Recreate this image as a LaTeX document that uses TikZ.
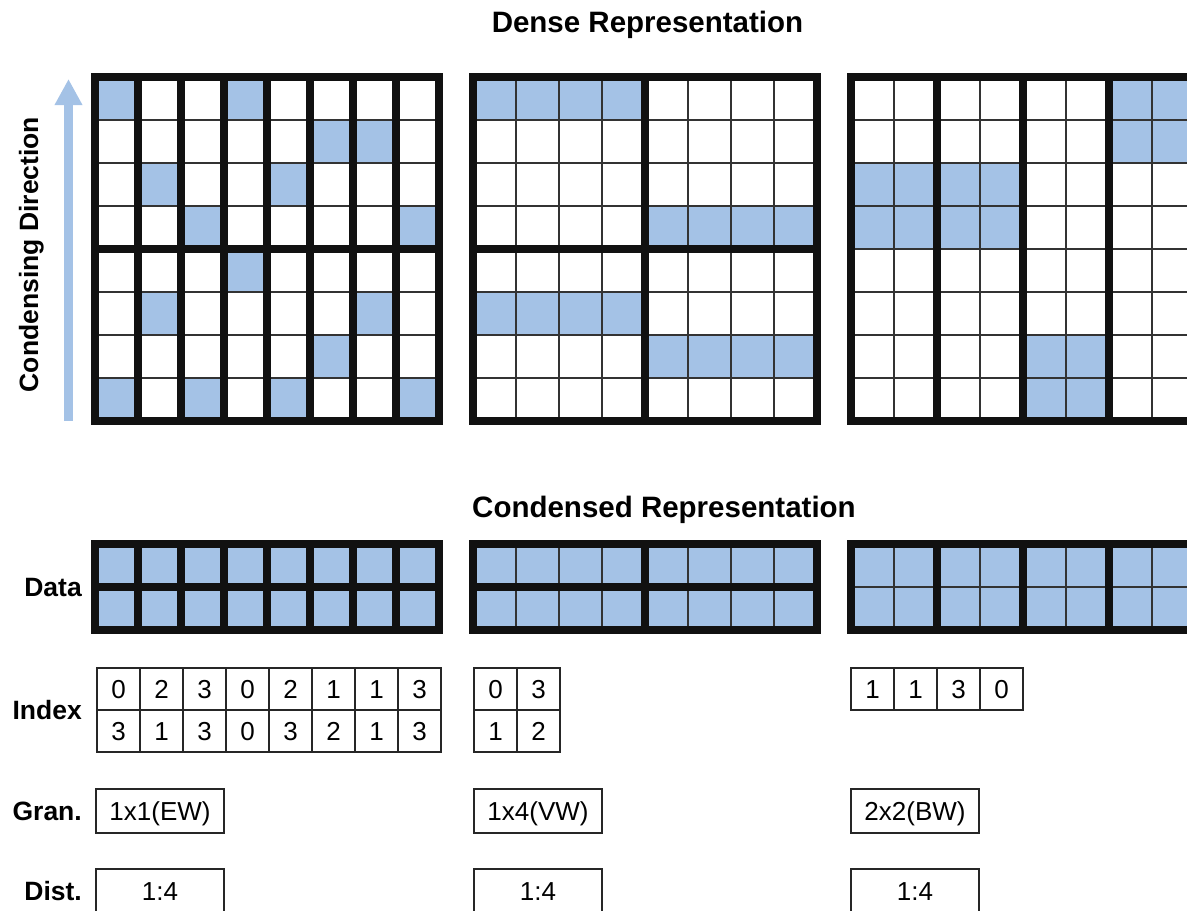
\documentclass[tikz,border=0pt]{standalone}
\usepackage{fontspec}
\setmainfont{Liberation Sans}
\usetikzlibrary{arrows.meta}
\definecolor{cellblue}{RGB}{164,194,230}
\definecolor{gridblack}{RGB}{17,17,17}
\tikzset{
  thinline/.style  = {draw=black!80, line width=1.5pt},
  thickline/.style = {draw=gridblack, line width=8pt},
  headtext/.style  = {font=\fontsize{29.5}{34}\selectfont\bfseries, inner sep=0pt},
  sidetext/.style  = {font=\fontsize{26.5}{30}\selectfont\bfseries, inner sep=0pt},
  rowlabel/.style  = {sidetext, anchor=east, text depth=0pt},
  numtext/.style   = {font=\fontsize{26}{30}\selectfont, text height=19pt, text depth=0pt},
  idxcell/.style   = {draw=black!85, line width=1.3pt, minimum width=43pt,
                      minimum height=42pt, inner sep=0pt, numtext},
  infobox/.style   = {draw=black!85, line width=1.5pt, minimum width=128pt,
                      minimum height=44pt, inner sep=0pt, numtext},
  condarrow/.style = {-{Triangle[length=26pt,width=26pt]}, line width=9pt, cellblue}
}

\begin{document}
\begin{tikzpicture}[x=1pt,y=-1pt]
  \useasboundingbox (0,0) rectangle (1187,911);
  \clip (0,0) rectangle (1187,911);
  % titles
  \node[headtext,anchor=base] (densetitle) at (647.5,32.5) {Dense Representation};
  \node[headtext,anchor=base] (condtitle) at (664,517.5) {Condensed Representation};
  % condensing direction
  \coordinate (arrbot) at (68.5,421);
  \coordinate (arrtop) at (68.5,79);
  \draw[condarrow] (arrbot) -- (arrtop);
  \node[sidetext,rotate=90,anchor=base] (dirlabel) at (38,254.5) {Condensing Direction};

  % dense 1x1 (element-wise)
  \begin{scope}[shift={(95,77)}]
    \foreach \c/\r in {0/0,3/0,5/1,6/1,1/2,4/2,2/3,7/3,3/4,1/5,6/5,5/6,0/7,2/7,4/7,7/7}
      \fill[cellblue] (\c*43,\r*43) rectangle ++(43,43);
    \foreach \r in {1,2,3,5,6,7} \draw[thinline] (0,\r*43) -- (344,\r*43);
    \foreach \c in {1,...,7} \draw[thickline] (\c*43,0) -- (\c*43,344);
    \draw[thickline] (0,172) -- (344,172);
    \draw[thickline] (0,0) rectangle (344,344);
  \end{scope}
  % dense 1x4 (vector-wise)
  \begin{scope}[shift={(473,77)}]
    \foreach \c/\r in {0/0,4/3,0/5,4/6}
      \fill[cellblue] (\c*43,\r*43) rectangle ++(172,43);
    \foreach \k in {1,2,3,5,6,7} {
      \draw[thinline] (0,\k*43) -- (344,\k*43);
      \draw[thinline] (\k*43,0) -- (\k*43,344);
    }
    \draw[thickline] (0,172) -- (344,172);
    \draw[thickline] (172,0) -- (172,344);
    \draw[thickline] (0,0) rectangle (344,344);
  \end{scope}
  % dense 2x2 (block-wise)
  \begin{scope}[shift={(851,77)}]
    \foreach \c/\r in {6/0,0/2,2/2,4/6}
      \fill[cellblue] (\c*43,\r*43) rectangle ++(86,86);
    \foreach \k in {1,...,7} \draw[thinline] (0,\k*43) -- (344,\k*43);
    \foreach \k in {1,3,5,7} \draw[thinline] (\k*43,0) -- (\k*43,344);
    \foreach \k in {2,4,6} \draw[thickline] (\k*43,0) -- (\k*43,344);
    \draw[thickline] (0,0) rectangle (344,344);
  \end{scope}

  % condensed data
  \node[rowlabel] (datalabel) at (82,587) {Data};
  \begin{scope}[shift={(95,544)}]
    \fill[cellblue] (0,0) rectangle (344,86);
    \foreach \c in {1,...,7} \draw[thickline] (\c*43,0) -- (\c*43,86);
    \draw[thickline] (0,43) -- (344,43);
    \draw[thickline] (0,0) rectangle (344,86);
  \end{scope}
  \begin{scope}[shift={(473,544)}]
    \fill[cellblue] (0,0) rectangle (344,86);
    \foreach \c in {1,2,3,5,6,7} \draw[thinline] (\c*43,0) -- (\c*43,86);
    \draw[thickline] (0,43) -- (344,43);
    \draw[thickline] (172,0) -- (172,86);
    \draw[thickline] (0,0) rectangle (344,86);
  \end{scope}
  \begin{scope}[shift={(851,544)}]
    \fill[cellblue] (0,0) rectangle (344,86);
    \draw[thinline] (0,43) -- (344,43);
    \foreach \c in {1,3,5,7} \draw[thinline] (\c*43,0) -- (\c*43,86);
    \foreach \c in {2,4,6} \draw[thickline] (\c*43,0) -- (\c*43,86);
    \draw[thickline] (0,0) rectangle (344,86);
  \end{scope}

  % index
  \node[rowlabel] (idxlabel) at (82,710) {Index};
  \foreach \v [count=\i from 0] in {0,2,3,0,2,1,1,3}
    \node[idxcell] (idxa-1-\i) at (118.5+\i*43,689) {\v};
  \foreach \v [count=\i from 0] in {3,1,3,0,3,2,1,3}
    \node[idxcell] (idxa-2-\i) at (118.5+\i*43,731) {\v};
  \foreach \v [count=\i from 0] in {0,3}
    \node[idxcell] (idxb-1-\i) at (495.5+\i*43,689) {\v};
  \foreach \v [count=\i from 0] in {1,2}
    \node[idxcell] (idxb-2-\i) at (495.5+\i*43,731) {\v};
  \foreach \v [count=\i from 0] in {1,1,3,0}
    \node[idxcell] (idxc-1-\i) at (872.5+\i*43,689) {\v};

  % granularity
  \node[rowlabel] (granlabel) at (82,811) {Gran.};
  \node[infobox] (grana) at (160,811) {1x1(EW)};
  \node[infobox] (granb) at (538,811) {1x4(VW)};
  \node[infobox] (granc) at (915,811) {2x2(BW)};

  % distribution
  \node[rowlabel] (distlabel) at (82,891) {Dist.};
  \node[infobox] (dista) at (160,891) {1:4};
  \node[infobox] (distb) at (538,891) {1:4};
  \node[infobox] (distc) at (915,891) {1:4};
\end{tikzpicture}
\end{document}
